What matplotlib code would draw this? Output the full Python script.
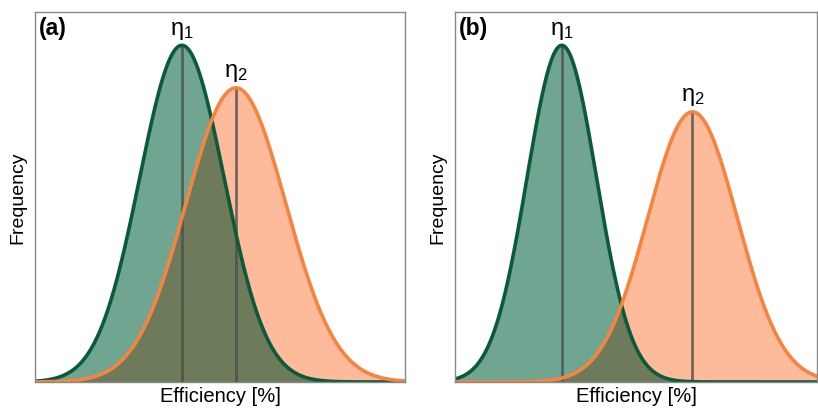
import numpy as np
import matplotlib.pyplot as plt

plt.rcParams['font.family'] = ['Liberation Sans', 'DejaVu Sans']
plt.rcParams['mathtext.fontset'] = 'custom'
plt.rcParams['mathtext.rm'] = 'Liberation Sans'
plt.rcParams['mathtext.it'] = 'Liberation Sans'

# efficiency axis in arbitrary percent units, peaks
panels = ['(a)', '(b)']
eta1_mean = [39.7, 29.5]
eta1_sigma = [11.4, 9.6]
eta1_peak = [0.91, 0.91]
eta2_mean = [54.3, 65.6]
eta2_sigma = [13.5, 12.4]
eta2_peak = [0.795, 0.73]

green_fill = '#70a592'
green_line = '#0b5a3a'
orange_fill = '#fdbb9c'
overlap_fill = '#6e7b5a'
orange_line = '#f5843e'
mean_line = '#4a4a4a'

fig = plt.figure(figsize=(8.18, 4.10), dpi=100)
boxes = [[35/818, 27/410, 370/818, 370/410], [455/818, 27/410, 362/818, 370/410]]

x = np.linspace(0, 100, 1000)
for i in range(2):
    ax = fig.add_axes(boxes[i])
    g1 = eta1_peak[i] * np.exp(-0.5 * ((x - eta1_mean[i]) / eta1_sigma[i]) ** 2)
    g2 = eta2_peak[i] * np.exp(-0.5 * ((x - eta2_mean[i]) / eta2_sigma[i]) ** 2)
    ax.fill_between(x, g1, color=green_fill, lw=0)
    ax.fill_between(x, g2, color=orange_fill, lw=0)
    # overlap looks like a multiply blend of the two fills
    ax.fill_between(x, np.minimum(g1, g2), color=overlap_fill, lw=0)
    ax.vlines([eta1_mean[i], eta2_mean[i]], 0, [eta1_peak[i], eta2_peak[i]],
              color=mean_line, lw=2, alpha=0.75)
    ax.plot(x, g1, color=green_line, lw=2.6)
    ax.plot(x, g2, color=orange_line, lw=2.6)
    ax.text(eta1_mean[i], eta1_peak[i] + 0.012, 'η$_1$', ha='center', va='bottom', fontsize=17)
    ax.text(eta2_mean[i], eta2_peak[i] + 0.012, 'η$_2$', ha='center', va='bottom', fontsize=17)
    ax.text(0.01, 0.99, panels[i], transform=ax.transAxes, ha='left', va='top',
            fontsize=16.5, fontweight='bold')
    ax.set_xlim(0, 100)
    ax.set_ylim(0, 1)
    ax.set_xticks([])
    ax.set_yticks([])
    for s in ax.spines.values():
        s.set_color('#888888')
        s.set_linewidth(1)
    ax.set_xlabel('Efficiency [%]', fontsize=14.5, labelpad=3)
    ax.set_ylabel('Frequency', fontsize=14, labelpad=6)

fig.savefig('out.png', dpi=100)
